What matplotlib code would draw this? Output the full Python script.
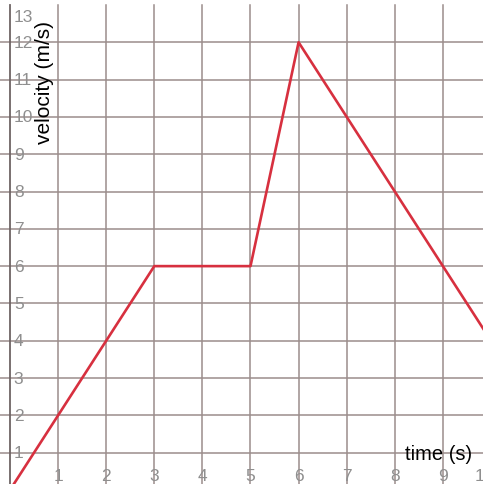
import matplotlib.pyplot as plt

# velocity-time graph data
time_s = [0, 3, 5, 6, 10]
velocity = [0, 6, 6, 12, 4]
x_ticks = [1, 2, 3, 4, 5, 6, 7, 8, 9, 10]
y_ticks = [1, 2, 3, 4, 5, 6, 7, 8, 9, 10, 11, 12, 13]

GRID = "#9b8d8b"
LABEL = "#8f8f8f"
RED = "#d7303f"


def main():
    plt.rcParams["font.family"] = ["Liberation Sans", "DejaVu Sans"]
    fig = plt.figure(figsize=(4.83, 4.85), dpi=100)
    ax = fig.add_axes([0, 0, 1, 1])
    ax.set_xlim(-0.208, 9.834)
    ax.set_ylim(0.16, 13.16)
    ax.axis("off")

    # grid
    for x in x_ticks:
        ax.plot([x, x], [0, 13], color=GRID, lw=1.1, zorder=1)
    for y in y_ticks[:-1]:
        ax.plot([-1, 11], [y, y], color=GRID, lw=1.1, zorder=1)
    ax.plot([0, 0], [0, 13], color="#6e6464", lw=1.3, zorder=1)

    # tick labels
    for y in y_ticks:
        yy = y if y < 13 else 12.7
        ax.text(0.08, yy, str(y), ha="left", va="center", fontsize=12.5,
                color=LABEL, zorder=2)
    for x in x_ticks:
        xx = x if x < 10 else 9.86
        ax.text(xx, 0.4, str(x), ha="center", va="center", fontsize=12.5,
                color=LABEL, zorder=2)

    ax.plot(time_s, velocity, color=RED, lw=1.9, zorder=3)

    ax.text(0.72, 10.95, "velocity (m/s)", rotation=90, ha="center",
            va="center", fontsize=15, color="black", zorder=4)
    ax.text(8.92, 0.97, "time (s)", ha="center", va="center",
            fontsize=14.5, color="black", zorder=4)

    fig.savefig("out.png", dpi=100, facecolor="white")


if __name__ == "__main__":
    main()
